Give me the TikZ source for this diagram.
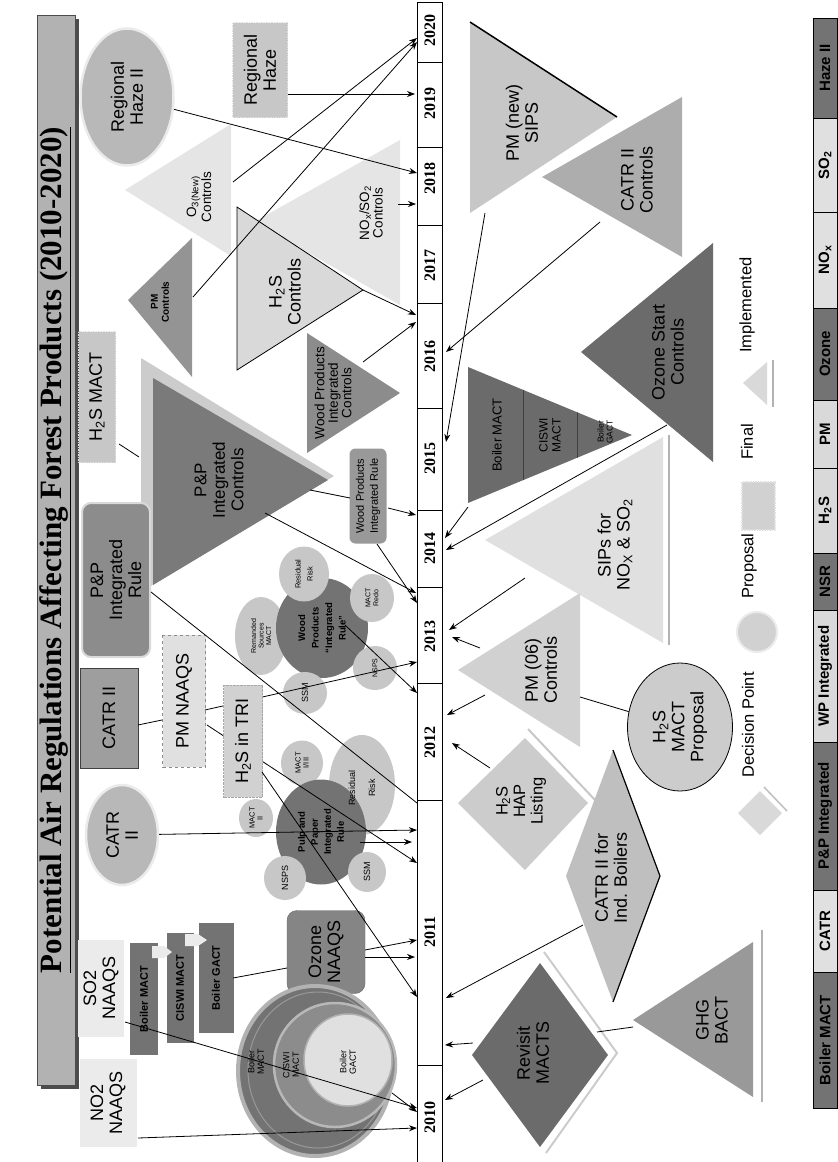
\documentclass[tikz,border=0pt]{standalone}
\usepackage{fontspec}
\setmainfont{Liberation Sans}
\newfontfamily\tnr{Liberation Serif}
\usetikzlibrary{shapes.geometric,positioning,arrows.meta}

\tikzset{
  lbl/.style={rotate=90,align=center,inner sep=0pt,font=\fontsize{18}{19}\selectfont},
  midlbl/.style={rotate=90,align=center,inner sep=0pt,font=\fontsize{13.5}{13.5}\selectfont},
  smlbl/.style={rotate=90,align=center,inner sep=0pt,font=\fontsize{7.5}{8}\selectfont},
  yearlbl/.style={rotate=90,inner sep=0pt,font=\tnr\bfseries\fontsize{16}{16}\selectfont},
  barlbl/.style={rotate=90,inner sep=0pt,font=\bfseries\fontsize{15}{15}\selectfont},
  leglbl/.style={rotate=90,inner sep=0pt,font=\fontsize{16.5}{17}\selectfont},
  con/.style={-{Stealth[length=8pt,width=6pt]},line width=.8pt},
  stub/.style={line width=.8pt},
  regbox/.style={rectangle,inner sep=0pt,align=center},
  finrim/.style={draw=black!12,densely dotted,line width=1.5pt},
  propo/.style={ellipse,fill=black!28,draw=black!8,line width=2.5pt},
  bub/.style={ellipse,rotate=90,inner sep=0pt,align=center,fill=black!22},
  dbub/.style={ellipse,rotate=90,inner sep=0pt,align=center,fill=black!55},
}

\begin{document}
\begin{tikzpicture}[x=1pt,y=-1pt]
\useasboundingbox (0,0) rectangle (838,1162);

% title
\fill[black!70] (41,19) rectangle (79,1089);
\node[regbox,rotate=90,fill=black!30,draw=black!70,minimum width=1070pt,minimum height=38pt] (titlebar) at (56,550) {};
\node[rotate=90,inner sep=0pt,font=\tnr\bfseries\fontsize{31}{31}\selectfont] (title) at (55,550)
  {\underline{Potential Air Regulations Affecting Forest Products (2010-2020)}};

% years
\draw[line width=.8pt] (417,2) rectangle (442,1162);
\foreach \b in {62,147,225,303,408,510,587,683,800,1065}
  \draw[line width=.6pt] (417,\b) -- (442,\b);
\foreach \yr/\ty in {2020/30,2019/103,2018/178,2017/265,2016/356,2015/458,2014/548,2013/636,2012/742,2011/932,2010/1117}
  \node[yearlbl] (y\yr) at (430,\ty) {\yr};

% left of the time line, 2014-2020
\node[propo,lbl,minimum width=137pt,minimum height=93pt] (rhazeii) at (127,97) {Regional\\Haze II};
\node[regbox,lbl,fill=black!22,finrim,minimum width=95pt,minimum height=55pt] (rhaze) at (260,70) {Regional\\Haze};
\fill[black!10] (125,190) -- (231,124) -- (231,256) -- cycle;
\node[midlbl] (othree) at (199,197) {O\textsubscript{3(New)}\\Controls};
\fill[black!10] (254,222) -- (400,140) -- (400,305) -- cycle;
\node[midlbl] (noxso) at (371,213) {NO\textsubscript{x}/SO\textsubscript{2}\\Controls};
\fill[black!42] (128,300) -- (192,238) -- (192,377) -- cycle;
\node[rotate=90,align=center,inner sep=0pt,font=\bfseries\fontsize{10}{11}\selectfont] (pmctl) at (160,302) {PM\\Controls};
\filldraw[fill=black!15,line width=.8pt] (237,207) -- (363,290) -- (237,370) -- cycle;
\node[lbl] (hsctl) at (285,292) {H\textsubscript{2}S\\Controls};
\node[regbox,lbl,fill=black!22,finrim,minimum width=131pt,minimum height=37pt] (hsmact) at (97,397) {H\textsubscript{2}S MACT};
\fill[black!20] (141,358) -- (334,476) -- (141,592) -- cycle;
\fill[black!52] (153,378) -- (328,480) -- (153,585) -- cycle;
\node[lbl,font=\fontsize{17}{18.5}\selectfont] (ppctl) at (219,480) {P\&P\\Integrated\\Controls};
\fill[black!45] (307,333) -- (400,393) -- (307,453) -- cycle;
\node[midlbl] (wpctl) at (333,393) {Wood Products\\Integrated\\Controls};
\node[regbox,lbl,fill=black!45,draw=black!15,line width=2pt,rounded corners=9pt,minimum width=154pt,minimum height=68pt] (pprule) at (116,580) {P\&P\\Integrated\\Rule};
\node[regbox,rotate=90,fill=black!40,rounded corners=6pt,minimum width=95pt,minimum height=37pt,font=\fontsize{11}{14}\selectfont] (wprule) at (368,496) {Wood Products\\Integrated Rule};

% left of the time line, 2010-2013
\node[regbox,lbl,fill=black!38,draw=black!75,line width=1pt,minimum width=100pt,minimum height=58pt] (catrii) at (109,718) {CATR II};
\node[regbox,lbl,fill=black!12,draw=black!45,dashed,minimum width=132pt,minimum height=43pt] (pmnaaqs) at (184,701) {PM NAAQS};
\node[propo,lbl,minimum width=100pt,minimum height=72pt] (catrell) at (122,835) {CATR\\II};

\node[bub,minimum width=78pt,minimum height=52pt,font=\fontsize{7}{7.5}\selectfont] (remand) at (261,636) {Remanded\\Sources\\MACT};
\node[dbub,minimum width=100pt,minimum height=92pt,font=\bfseries\fontsize{9.5}{13.5}\selectfont] (wpbub) at (322,628) {Wood\\Products\\``Integrated\\Rule''};
\node[bub,minimum width=55pt,minimum height=50pt,font=\fontsize{7.5}{12}\selectfont] (rrisk) at (304,574) {Residual\\Risk};
\node[bub,minimum width=48pt,minimum height=44pt,font=\fontsize{7}{8}\selectfont] (mredo) at (372,598) {MACT\\Redo};
\node[bub,minimum width=44pt,minimum height=44pt,font=\fontsize{7}{8}\selectfont] (nsps) at (375,668) {NSPS};
\node[bub,minimum width=42pt,minimum height=44pt,font=\fontsize{9}{10}\selectfont] (ssm) at (305,693) {SSM};

\node[bub,minimum width=100pt,minimum height=66pt] (rrisktwo) at (362,785) {};
\node[bub,minimum width=45pt,minimum height=42pt,font=\fontsize{7.5}{8}\selectfont] (macti) at (302,763) {MACT\\I/III};
\node[bub,minimum width=38pt,minimum height=34pt,font=\fontsize{7.5}{8}\selectfont] (mactii) at (256,818) {MACT\\II};
\node[dbub,minimum width=105pt,minimum height=90pt,font=\bfseries\fontsize{9.5}{13}\selectfont] (ppbub) at (321,832) {Pulp and\\Paper\\Integrated\\Rule};
\node[smlbl,font=\fontsize{9}{20}\selectfont] (rrisktwot) at (362,788) {Residual\\Risk};
\node[bub,minimum width=44pt,minimum height=42pt,font=\fontsize{9}{10}\selectfont] (nspstwo) at (285,878) {NSPS};
\node[bub,minimum width=40pt,minimum height=38pt,font=\fontsize{9}{10}\selectfont] (ssmtwo) at (367,872) {SSM};

% PM NAAQS lines run under the TRI box
\coordinate (pmn-o1) at (205,710);
\coordinate (pmn-o2) at (207,725);
\coordinate (t13c) at (417,662);
\coordinate (t11c) at (417,863);
\draw[con] (pmn-o1) -- (t13c);
\draw[con] (pmn-o2) -- (t11c);
\node[regbox,lbl,fill=black!18,draw=black!35,densely dotted,minimum width=112pt,minimum height=39pt] (hstri) at (243,741) {H\textsubscript{2}S in TRI};

\node[regbox,lbl,fill=black!8,minimum width=97pt,minimum height=46pt] (sotwo) at (101,988) {SO2\\NAAQS};
\node[regbox,lbl,fill=black!8,minimum width=88pt,minimum height=57pt] (notwo) at (108,1103) {NO2\\NAAQS};
\node[regbox,rotate=90,fill=black!55,minimum width=112pt,minimum height=28pt,font=\bfseries\fontsize{11}{11}\selectfont] (chbm) at (144,999) {Boiler MACT};
\node[regbox,rotate=90,fill=black!55,minimum width=110pt,minimum height=27pt,font=\bfseries\fontsize{11}{11}\selectfont] (chcm) at (180,988) {CISWI MACT};
\node[regbox,rotate=90,fill=black!55,minimum width=110pt,minimum height=35pt,font=\bfseries\fontsize{11}{11}\selectfont] (chbg) at (216,978) {Boiler GACT};
\fill[black!8] (152,946) -- (164,946) -- (172,952) -- (164,958) -- (152,958) -- cycle;
\fill[black!8] (185,934) -- (198,934) -- (207,940) -- (198,946) -- (185,946) -- cycle;
\node[regbox,lbl,fill=black!48,draw=black!60,rounded corners=10pt,minimum width=83pt,minimum height=78pt] (oznaaqs) at (326,952) {Ozone\\NAAQS};

\node[ellipse,fill=black!55,draw=black!30,line width=4pt,minimum width=154pt,minimum height=170pt,inner sep=0pt] (ring) at (315,1071) {};
\node[ellipse,draw=black!40,line width=1pt,minimum width=140pt,minimum height=156pt,inner sep=0pt] (ringrim) at (318,1070) {};
\node[ellipse,fill=black!45,draw=black!28,line width=2.5pt,minimum width=122pt,minimum height=124pt,inner sep=0pt] (ringmid) at (335,1065) {};
\node[ellipse,fill=black!12,draw=black!30,line width=1.5pt,minimum width=88pt,minimum height=92pt,inner sep=0pt] (ringin) at (348,1060) {};
\node[smlbl,font=\fontsize{9}{9.5}\selectfont] (ringbm) at (256,1062) {Boiler\\MACT};
\node[smlbl,font=\fontsize{9}{9.5}\selectfont] (ringcm) at (291,1065) {CISWI\\MACT};
\node[smlbl,font=\fontsize{9}{9.5}\selectfont] (ringbg) at (348,1062) {Boiler\\GACT};

% right of the time line
\fill[black!22] (470,22) -- (617,117) -- (470,213) -- cycle;
\draw[line width=1.5pt] (470,22) -- (617,117);
\node[lbl] (pmsips) at (522,123) {PM (new)\\SIPS};
\fill[black!32] (542,177) -- (682,97) -- (682,257) -- cycle;
\node[lbl] (catrctl) at (637,180) {CATR II\\Controls};
\fill[black!58] (581,352) -- (713,243) -- (713,462) -- cycle;
\node[lbl] (ozstart) at (668,352) {Ozone Start\\Controls};
\fill[black!58] (468,367) -- (632,435) -- (468,503) -- cycle;
\begin{scope}
  \clip (468,367) -- (632,435) -- (468,503) -- cycle;
  \draw[black!75] (523,350) -- (523,520) (577,350) -- (577,520);
\end{scope}
\node[rotate=90,inner sep=0pt,font=\fontsize{13}{13}\selectfont] (bmact) at (497,435) {Boiler MACT};
\node[rotate=90,align=center,inner sep=0pt,font=\fontsize{12}{13}\selectfont] (cmact) at (550,435) {CISWI\\MACT};
\node[rotate=90,align=center,inner sep=0pt,font=\fontsize{8.5}{9}\selectfont] (bgact) at (605,432) {Boiler\\GACT};
\fill[black!12] (485,540) -- (663,437) -- (663,643) -- cycle;
\draw[black!30,line width=2pt] (669,435) -- (669,645);
\node[lbl] (sips) at (615,545) {SIPs for\\NO\textsubscript{X} \& SO\textsubscript{2}};
\fill[black!18] (458,670) -- (580,593) -- (580,747) -- cycle;
\node[lbl] (pmsix) at (541,670) {PM (06)\\Controls};
\draw[black!22,line width=2pt] (528,729) -- (596,801);
\fill[black!20] (458,803) -- (525,738) -- (588,803) -- (525,870) -- cycle;
\node[lbl,font=\fontsize{16.5}{17.5}\selectfont] (hshap) at (521,801) {H\textsubscript{2}S\\HAP\\Listing};
\node[ellipse,lbl,fill=black!20,draw=black,line width=.8pt,minimum width=128pt,minimum height=105pt] (hsprop) at (680,727) {H\textsubscript{2}S\\MACT\\Proposal};
\fill[black!25] (566,876) -- (613,750) -- (660,876) -- (613,1002) -- cycle;
\draw[line width=1.2pt] (613,750) -- (660,876) -- (613,1002);
\node[lbl] (catrind) at (611,878) {CATR II for\\Ind. Boilers};
\draw[black!20,line width=2pt] (544,952) -- (617,1053) -- (546,1153);
\fill[black!58] (472,1055) -- (540,963) -- (608,1055) -- (540,1147) -- cycle;
\node[lbl] (revisit) at (533,1053) {Revisit\\MACTS};
\fill[black!40] (633,1020) -- (753,942) -- (753,1097) -- cycle;
\draw[black!30,line width=2pt] (762,930) -- (762,1102);
\node[lbl] (ghg) at (712,1020) {GHG\\BACT};

% connectors, left side
\coordinate (o3-o) at (233,182);   \coordinate (t20a) at (417,38);
\coordinate (pmc-o) at (193,297);  \coordinate (t20b) at (417,42);
\coordinate (rh-o) at (288,94);    \coordinate (t19) at (415,94);
\coordinate (t18a) at (417,173);
\coordinate (nox-o) at (398,204);  \coordinate (t18b) at (416,204);
\coordinate (hsc-o) at (363,290);  \coordinate (t16a) at (416,315);
\coordinate (wpc-o) at (363,362);  \coordinate (t16b) at (416,322);
\coordinate (hsm-o) at (119,444);  \coordinate (ppc-i) at (139,457);
\coordinate (ppc-o1) at (265,513); \coordinate (t13a) at (416,593);
\coordinate (ppc-o2) at (310,490); \coordinate (wpr-i) at (350,498);
\coordinate (wpr-o1) at (388,508); \coordinate (t14a) at (416,515);
\coordinate (wpr-o2) at (377,544); \coordinate (t13b) at (417,603);
\coordinate (cat-o) at (138,725);  \coordinate (pmn-i) at (162,720);
\coordinate (ppr-o) at (151,592);  \coordinate (t11a) at (417,803);
\coordinate (wpb-o) at (345,625);  \coordinate (t12a) at (417,693);
\coordinate (t11b) at (417,830);
\coordinate (ppb-o) at (360,842);  \coordinate (t11d) at (412,842);
\coordinate (ozn-o1) at (365,950); \coordinate (t11e) at (417,940);
\coordinate (ozn-o2) at (365,957); \coordinate (t11f) at (415,957);
\coordinate (hst-o) at (262,772);  \coordinate (t11g) at (417,997);
\coordinate (chb-o) at (233,978);  \coordinate (ozn-i) at (287,968);
\coordinate (son-o) at (125,1022); \coordinate (t10a) at (417,1108);
\coordinate (ring-o) at (392,1093); \coordinate (t10b) at (417,1112);
\coordinate (non-o) at (138,1138); \coordinate (t10c) at (417,1128);

\draw[con] (o3-o) -- (t20a);
\draw[con] (pmc-o) -- (t20b);
\draw[con] (rh-o) -- (t19);
\draw[con] (rhazeii) -- (t18a);
\draw[con] (nox-o) -- (t18b);
\draw[con] (hsc-o) -- (t16a);
\draw[con] (wpc-o) -- (t16b);
\draw[stub] (hsm-o) -- (ppc-i);
\draw[con] (ppc-o1) -- (t13a);
\draw[stub] (ppc-o2) -- (wpr-i);
\draw[con] (wpr-o1) -- (t14a);
\draw[con] (wpr-o2) -- (t13b);
\draw[stub] (cat-o) -- (pmn-i);
\draw[stub] (ppr-o) -- (t11a);
\draw[con] (wpb-o) -- (t12a);
\draw[con] (catrell) -- (t11b);
\draw[con] (ppb-o) -- (t11d);
\draw[con] (ozn-o1) -- (t11e);
\draw[con] (ozn-o2) -- (t11f);
\draw[con] (hst-o) -- (t11g);
\draw[stub] (chb-o) -- (ozn-i);
\draw[con] (son-o) -- (t10a);
\draw[con] (ring-o) -- (t10b);
\draw[con] (non-o) -- (t10c);

% connectors, right side
\coordinate (cc-o) at (600,222);   \coordinate (r16) at (446,352);
\coordinate (pms-o) at (485,213);  \coordinate (r15) at (446,442);
\coordinate (bm-o) at (468,507);   \coordinate (r14a) at (445,538);
\coordinate (os-o) at (667,425);   \coordinate (r14b) at (446,550);
\coordinate (sip-o) at (525,578);  \coordinate (r13a) at (449,630);
\coordinate (pm6-o1) at (480,648); \coordinate (r13b) at (452,637);
\coordinate (pm6-o2) at (485,695); \coordinate (r12a) at (447,715);
\coordinate (hap-o) at (490,768);  \coordinate (r12b) at (452,743);
\coordinate (pm6-i) at (580,697);
\coordinate (cib-o) at (583,925);  \coordinate (r11a) at (446,998);
\coordinate (rev-o1) at (473,1043); \coordinate (r11b) at (445,1045);
\coordinate (rev-o2) at (483,1080); \coordinate (r10) at (445,1100);
\coordinate (ghg-o) at (633,1027); \coordinate (rev-i) at (597,1032);

\draw[con] (cc-o) -- (r16);
\draw[con] (pms-o) -- (r15);
\draw[con] (bm-o) -- (r14a);
\draw[con] (os-o) -- (r14b);
\draw[con] (sip-o) -- (r13a);
\draw[con] (pm6-o1) -- (r13b);
\draw[con] (pm6-o2) -- (r12a);
\draw[con] (hap-o) -- (r12b);
\draw[stub] (hsprop) -- (pm6-i);
\draw[con] (cib-o) -- (r11a);
\draw[con] (rev-o1) -- (r11b);
\draw[con] (rev-o2) -- (r10);
\draw[stub] (ghg-o) -- (rev-i);

% legend
\draw[black!25,line width=1.5pt] (764,787) -- (787,811);
\fill[black!15] (760,791) -- (782,813) -- (760,835) -- (738,813) -- cycle;
\node[leglbl] (legdp) at (748,725) {Decision Point};
\node[circle,fill=black!18,draw=black!8,line width=2pt,minimum size=40pt,inner sep=0pt] (legpr) at (757,632) {};
\node[leglbl] (legprt) at (749,566) {Proposal};
\draw[fill=black!18,finrim] (742,482) rectangle (775,530);
\node[leglbl] (legfi) at (747,442) {Final};
\fill[black!15] (743,383) -- (767,362) -- (767,405) -- cycle;
\draw[black!30,line width=1.2pt] (773,360) -- (773,407);
\node[leglbl] (legim) at (747,305) {Implemented};

% bottom bar
\foreach \pa/\pb/\sh/\tx in {18/118/55/Haze II,118/212/12/SO\textsubscript{2},212/308/12/NO\textsubscript{x},308/400/55/Ozone,400/468/15/PM,468/553/15/H\textsubscript{2}S,553/610/55/NSR,610/742/15/WP Integrated,742/890/55/P\&P Integrated,890/972/12/CATR,972/1108/55/Boiler MACT}
{
  \draw[fill=black!\sh,line width=.6pt] (813,\pa) rectangle (837,\pb);
  \node[barlbl] (bar\pa) at (825,{(\pa+\pb)/2}) {\tx};
}
\end{tikzpicture}
\end{document}
